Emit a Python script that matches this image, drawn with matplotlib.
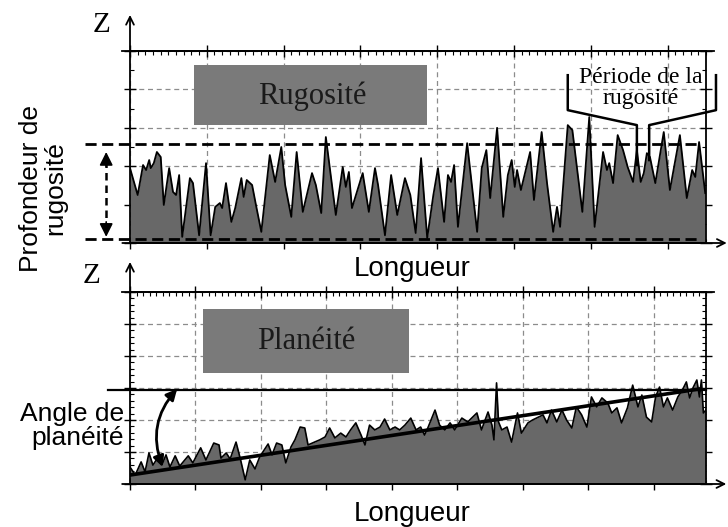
import matplotlib.pyplot as plt
from matplotlib.patches import Rectangle, FancyArrowPatch
from matplotlib.ticker import MultipleLocator, AutoMinorLocator

plt.rcParams['font.family'] = ['Liberation Sans', 'DejaVu Sans']

# Roughness profile (top panel)
top_x = [0.00, 0.10, 0.17, 0.21, 0.25, 0.27, 0.31, 0.35, 0.40, 0.44,
         0.51, 0.56, 0.60, 0.64, 0.68, 0.78, 0.82, 0.90, 0.99, 1.05,
         1.11, 1.17, 1.20, 1.25, 1.32, 1.37, 1.45, 1.48, 1.52, 1.59,
         1.64, 1.71, 1.82, 1.89, 1.97, 2.02, 2.10, 2.17, 2.25, 2.37,
         2.42, 2.49, 2.55, 2.68, 2.77, 2.81, 2.85, 2.89, 3.03, 3.11,
         3.19, 3.23, 3.32, 3.40, 3.48, 3.58, 3.65, 3.72, 3.79, 3.87,
         3.95, 4.01, 4.09, 4.14, 4.18, 4.22, 4.27, 4.39, 4.52, 4.58,
         4.64, 4.69, 4.78, 4.86, 4.92, 4.97, 5.01, 5.04, 5.09, 5.21,
         5.26, 5.36, 5.43, 5.51, 5.56, 5.60, 5.70, 5.76, 5.89, 5.98,
         6.05, 6.16, 6.21, 6.24, 6.29, 6.35, 6.42, 6.48, 6.55, 6.60,
         6.65, 6.69, 6.73, 6.77, 6.84, 6.95, 7.03, 7.16, 7.25, 7.32,
         7.36, 7.41, 7.49]
top_z = [1.95, 1.25, 2.03, 1.90, 2.16, 1.95, 2.08, 2.37, 2.24, 0.99,
         1.95, 1.33, 1.25, 1.77, 0.16, 1.69, 1.56, 0.20, 2.08, 0.20,
         0.94, 1.04, 0.91, 1.56, 0.55, 0.91, 1.69, 1.20, 1.64, 1.51,
         0.99, 0.29, 2.29, 1.59, 2.50, 1.51, 0.68, 2.37, 0.81, 1.82,
         1.51, 0.78, 2.76, 0.73, 1.98, 1.46, 1.85, 0.91, 1.82, 0.81,
         1.95, 1.51, 0.20, 1.77, 0.73, 1.69, 1.25, 0.26, 2.21, 0.13,
         1.25, 1.95, 0.55, 1.77, 1.59, 2.03, 0.42, 2.60, 0.29, 1.95,
         2.42, 1.17, 3.00, 0.68, 1.77, 2.16, 1.46, 1.90, 1.38, 2.37,
         1.12, 2.89, 1.56, 0.29, 0.94, 0.42, 3.07, 2.94, 0.81, 3.28,
         0.42, 2.37, 1.90, 2.08, 1.56, 2.81, 2.42, 1.98, 1.59, 2.42,
         1.59, 1.82, 2.34, 2.24, 1.56, 2.89, 1.38, 2.81, 1.17, 1.90,
         1.72, 2.63, 1.30]
rough_levels = [2.58, 0.10]

# Flatness profile (bottom panel)
bot_x = [0.00, 0.08, 0.17, 0.23, 0.29, 0.35, 0.43, 0.50, 0.55, 0.61,
         0.69, 0.76, 0.89, 0.96, 1.08, 1.16, 1.28, 1.36, 1.39, 1.47,
         1.53, 1.62, 1.69, 1.76, 1.83, 1.91, 1.98, 2.03, 2.11, 2.17,
         2.24, 2.32, 2.38, 2.46, 2.52, 2.60, 2.67, 2.72, 2.82, 2.90,
         2.98, 3.05, 3.13, 3.22, 3.30, 3.37, 3.45, 3.53, 3.59, 3.66,
         3.74, 3.82, 3.89, 3.97, 4.05, 4.12, 4.20, 4.29, 4.37, 4.44,
         4.50, 4.55, 4.66, 4.73, 4.81, 4.89, 4.96, 5.07, 5.16, 5.30,
         5.37, 5.47, 5.53, 5.56, 5.60, 5.63, 5.68, 5.76, 5.83, 5.92,
         5.98, 6.08, 6.15, 6.24, 6.31, 6.37, 6.44, 6.52, 6.60, 6.67,
         6.75, 6.82, 6.90, 6.98, 7.05, 7.13, 7.21, 7.30, 7.36, 7.44,
         7.51, 7.60, 7.68, 7.76, 7.82, 7.89, 7.97, 8.03, 8.09, 8.15,
         8.21, 8.29, 8.37, 8.44, 8.50, 8.55, 8.60, 8.66, 8.70, 8.73,
         8.76, 8.80]
bot_z = [0.53, 0.28, 0.69, 0.38, 0.97, 0.59, 0.84, 0.66, 0.91, 0.53,
         0.88, 0.56, 0.88, 0.66, 1.13, 0.75, 1.28, 1.22, 0.81, 0.97,
         0.78, 1.31, 0.75, 0.13, 0.75, 0.47, 0.84, 1.00, 1.25, 0.91,
         1.28, 1.22, 0.66, 1.16, 1.38, 1.78, 1.75, 1.22, 1.31, 1.38,
         1.47, 1.75, 1.44, 1.59, 1.47, 1.69, 1.91, 1.53, 1.22, 1.84,
         1.69, 1.78, 2.03, 1.69, 1.78, 1.69, 1.84, 2.06, 1.69, 1.78,
         1.53, 1.75, 2.31, 1.84, 1.69, 1.91, 1.69, 2.06, 1.94, 2.22,
         1.69, 2.25, 1.84, 1.38, 3.16, 1.94, 1.69, 1.78, 1.31, 2.22,
         1.59, 1.91, 2.00, 2.09, 2.16, 1.91, 2.31, 1.94, 2.31, 2.00,
         1.75, 2.41, 2.16, 1.78, 2.72, 2.41, 2.69, 2.53, 2.22, 2.38,
         1.91, 2.38, 3.09, 2.41, 2.78, 2.09, 1.94, 2.72, 3.03, 2.41,
         2.69, 2.31, 2.72, 2.94, 3.19, 2.69, 3.00, 3.25, 2.72, 3.25,
         2.22, 2.31]
trend_x = [0.0, 8.70]
trend_z = [0.28, 2.97]
flat_level = 2.95

W, H = 728, 527
FILL = '#686868'
BOX = '#7a7a7a'
SERIF = ['Liberation Serif', 'DejaVu Serif']


def fpos(x, y):
    # pixel position in the 728x527 picture -> figure fraction
    return x / W, 1 - y / H


def style_panel(ax, xmax, ymax, y_minor):
    ax.set_xlim(0, xmax)
    ax.set_ylim(0, ymax)
    ax.xaxis.set_major_locator(MultipleLocator(1))
    ax.yaxis.set_major_locator(MultipleLocator(1))
    ax.xaxis.set_minor_locator(AutoMinorLocator(10))
    ax.yaxis.set_minor_locator(AutoMinorLocator(y_minor))
    ax.tick_params(which='both', direction='in', top=True, right=True,
                   labelbottom=False, labelleft=False)
    ax.tick_params(which='major', direction='inout', length=9, width=1)
    ax.tick_params(which='minor', length=3, width=0.8)
    ax.grid(True, which='major', color='#8c8c8c', linestyle=(0, (4, 3)), linewidth=0.9)
    ax.set_axisbelow(True)
    for s in ax.spines.values():
        s.set_linewidth(1.3)


def axis_arrows(ax, x0, x_tip, ytop, y_tip):
    kw = dict(arrowstyle='->', lw=1.3, color='k', shrinkA=0, shrinkB=0, mutation_scale=14)
    ax.annotate('', xy=(x_tip, 0), xytext=(x0, 0), arrowprops=kw, annotation_clip=False)
    ax.annotate('', xy=(0, y_tip), xytext=(0, ytop), arrowprops=kw, annotation_clip=False)


fig = plt.figure(figsize=(7.28, 5.27), dpi=100)
ax_top = fig.add_axes([130 / W, 1 - 243 / H, 576 / W, 192 / H])
ax_bot = fig.add_axes([130 / W, 1 - 484 / H, 576 / W, 192 / H])

# ---------------- top: rugosité ----------------
style_panel(ax_top, 7.5, 5, 2)
ax_top.fill_between(top_x, top_z, 0, color=FILL, lw=0, zorder=2)
ax_top.plot(top_x, top_z, color='k', lw=1.3, zorder=3)
for lev in rough_levels:
    ax_top.plot([-0.59, 7.38], [lev, lev], color='k', lw=2, linestyle=(0, (4, 2)),
                clip_on=False, zorder=4)
ax_top.plot([-0.10, 7.60], [5, 5], color='k', lw=1.3, clip_on=False)
axis_arrows(ax_top, -0.10, 7.77, 5, 5.94)

# depth arrow (dashed shaft + filled heads)
xa = -0.31
ax_top.plot([xa, xa], [0.35, 2.2], color='k', lw=1.8, linestyle=(0, (3, 2)), clip_on=False)
head = dict(arrowstyle='-|>', color='k', lw=1.2, mutation_scale=20, shrinkA=0, shrinkB=0)
ax_top.annotate('', xy=(xa, 2.37), xytext=(xa, 2.0), arrowprops=head, annotation_clip=False)
ax_top.annotate('', xy=(xa, 0.16), xytext=(xa, 0.55), arrowprops=head, annotation_clip=False)

ax_top.add_patch(Rectangle((0.83, 3.07), 3.04, 1.57, facecolor=BOX, edgecolor='none', zorder=2))
ax_top.text(2.37, 3.83, 'Rugosité', family=SERIF, fontsize=22, color='#1a1a1a',
            ha='center', va='center', zorder=3)

# period bracket
ax_top.plot([5.70, 5.70, 6.60, 6.60], [4.37, 3.46, 3.07, 2.03], color='k', lw=1.8,
            clip_on=False, zorder=4)
ax_top.plot([7.63, 7.63, 6.76, 6.76], [4.37, 3.46, 3.07, 2.16], color='k', lw=1.8,
            clip_on=False, zorder=4)
fig.text(*fpos(641, 88), 'Période de la\nrugosité', family=SERIF, fontsize=17,
         ha='center', va='center', linespacing=1.0)

# ---------------- bottom: planéité ----------------
style_panel(ax_bot, 8.8, 6, 5)
ax_bot.fill_between(bot_x, bot_z, 0, color=FILL, lw=0, zorder=2)
ax_bot.plot(bot_x, bot_z, color='k', lw=1.2, zorder=3)
ax_bot.plot(trend_x, trend_z, color='k', lw=2.6, zorder=4)
ax_bot.plot([-0.34, 8.8], [flat_level, flat_level], color='k', lw=1.6, clip_on=False, zorder=4)
ax_bot.plot([-0.12, 8.92], [6, 6], color='k', lw=1.3, clip_on=False)
axis_arrows(ax_bot, -0.12, 9.11, 6, 6.94)

ax_bot.add_patch(Rectangle((1.11, 3.47), 3.15, 2.00, facecolor=BOX, edgecolor='none', zorder=2))
ax_bot.text(2.69, 4.45, 'Planéité', family=SERIF, fontsize=22, color='#1a1a1a',
            ha='center', va='center', zorder=3)

ang = FancyArrowPatch((0.50, 0.53), (0.72, 2.97), connectionstyle='arc3,rad=-0.3',
                      arrowstyle='<|-|>', mutation_scale=16, lw=2, color='k',
                      shrinkA=0, shrinkB=0, zorder=5, clip_on=False)
ax_bot.add_patch(ang)

# ---------------- labels ----------------
fig.text(*fpos(43, 188), 'Profondeur de\nrugosité', rotation=90, fontsize=19,
         ha='center', va='center', linespacing=1.05)
fig.text(*fpos(412, 269), 'Longueur', fontsize=20, ha='center', va='center')
fig.text(*fpos(412, 514), 'Longueur', fontsize=20, ha='center', va='center')
fig.text(*fpos(124, 426), 'Angle de\nplanéité', fontsize=19, ha='right', va='center',
         multialignment='right', linespacing=1.05)
fig.text(*fpos(101, 25), 'Z', family=SERIF, fontsize=21, ha='center', va='center')
fig.text(*fpos(91, 276), 'Z', family=SERIF, fontsize=21, ha='center', va='center')

fig.savefig('out.png', dpi=100)
